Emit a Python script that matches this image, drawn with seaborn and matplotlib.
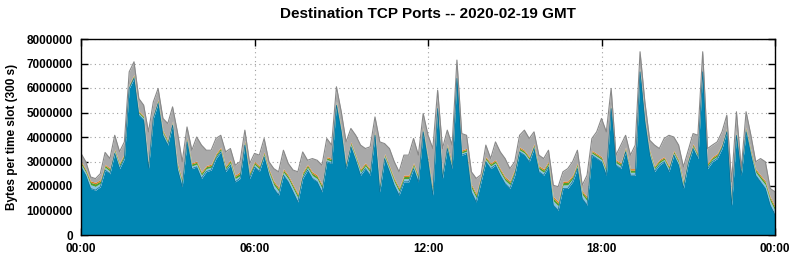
import numpy as np
import pandas as pd
import matplotlib
matplotlib.use("Agg")
import matplotlib.pyplot as plt
import seaborn as sns
from matplotlib.ticker import FuncFormatter

# ---- data (values in millions of bytes per 300 s slot, sampled every 10 minutes) ----
slot_minutes = 10
total = [
    3.33, 2.99, 2.37, 2.30, 2.50, 3.37, 3.12, 4.07, 3.40, 3.80, 6.66, 7.07, 5.57, 5.30, 4.21, 5.43, 5.98, 4.76, 4.55, 5.23, 4.21, 2.99, 4.41, 3.46,
    4.00, 3.67, 3.46, 3.46, 3.94, 4.07, 3.39, 3.53, 2.85, 2.99, 4.28, 2.92, 3.33, 3.26, 3.94, 2.99, 2.71, 2.58, 3.46, 2.92, 2.65, 2.58, 3.39, 3.05,
    3.12, 3.05, 2.85, 3.94, 3.67, 6.05, 5.03, 3.80, 4.35, 4.07, 3.67, 3.53, 3.60, 4.82, 3.80, 3.73, 3.53, 2.99, 2.58, 3.26, 3.26, 3.94, 3.26, 4.96,
    4.07, 3.53, 5.91, 3.53, 4.28, 3.67, 7.14, 4.14, 4.07, 2.58, 2.31, 2.44, 3.67, 3.12, 3.80, 3.39, 3.12, 2.71, 2.99, 4.07, 4.28, 3.94, 4.21, 3.26,
    3.12, 3.46, 2.03, 1.97, 2.58, 2.71, 2.99, 3.46, 2.03, 2.44, 3.94, 4.21, 4.76, 4.21, 5.98, 3.26, 3.67, 4.07, 3.26, 3.67, 7.48, 5.43, 3.87, 3.67,
    3.53, 3.94, 4.07, 4.00, 3.67, 2.78, 3.46, 4.14, 4.07, 7.48, 3.53, 3.67, 3.80, 4.21, 4.89, 2.17, 5.03, 2.71, 5.03, 4.07, 2.99, 3.12, 2.99, 1.90, 1.76,
]
port_main = [
    2.78, 2.44, 1.90, 1.83, 1.97, 2.65, 2.50, 3.33, 2.71, 3.12, 5.98, 6.39, 4.89, 4.69, 2.71, 4.76, 5.37, 4.07, 3.67, 4.48, 2.71, 1.97, 3.80, 2.71,
    2.78, 2.31, 2.59, 2.65, 3.12, 3.39, 2.59, 2.85, 2.17, 2.31, 3.67, 2.31, 2.78, 2.59, 3.19, 2.44, 1.90, 1.63, 2.44, 2.17, 1.76, 1.35, 2.31, 2.65,
    2.31, 2.17, 1.76, 2.99, 2.92, 5.30, 4.21, 2.71, 3.60, 3.05, 2.44, 2.71, 2.44, 4.07, 1.76, 3.12, 2.59, 2.03, 1.63, 2.17, 2.17, 2.71, 2.17, 4.21,
    2.99, 1.63, 5.16, 2.31, 3.53, 2.71, 6.39, 3.26, 3.33, 1.76, 1.35, 2.17, 2.99, 2.71, 2.85, 2.44, 2.10, 1.90, 2.44, 3.39, 3.26, 2.99, 3.53, 2.59,
    2.44, 2.78, 1.22, 1.01, 1.90, 1.90, 2.17, 2.71, 1.49, 1.22, 3.26, 3.12, 2.99, 2.44, 5.16, 2.85, 2.71, 3.39, 2.44, 2.44, 6.66, 4.62, 3.26, 2.59,
    2.85, 2.99, 2.59, 3.26, 2.85, 1.90, 2.92, 3.53, 3.12, 6.66, 2.71, 2.99, 3.12, 3.53, 4.21, 1.22, 4.07, 2.44, 4.21, 3.26, 2.44, 2.17, 1.90, 1.22, 0.82,
]
port_lightblue = [
    .11, .12, .15, .16, .14, .11, .10, .08, .11, .09, .08, .07, .08, .08, .12, .08, .07, .09, .09, .08, .11, .15, .08, .11,
    .11, .13, .12, .11, .09, .08, .11, .10, .13, .12, .08, .12, .10, .11, .09, .12, .15, .16, .12, .13, .15, .17, .12, .11,
    .12, .13, .15, .09, .09, .07, .08, .11, .09, .10, .12, .11, .12, .08, .16, .09, .11, .14, .15, .13, .13, .11, .13, .08,
    .09, .15, .07, .12, .08, .11, .07, .09, .09, .15, .17, .12, .09, .11, .10, .12, .13, .15, .12, .08, .09, .10, .08, .11,
    .12, .10, .17, .18, .14, .15, .13, .11, .16, .17, .08, .09, .09, .12, .07, .10, .11, .08, .12, .12, .07, .08, .09, .11,
    .10, .09, .11, .08, .10, .15, .10, .08, .09, .07, .11, .09, .09, .08, .08, .17, .08, .11, .08, .09, .12, .13, .15, .17, .18,
]
port_green = [
    .08, .08, .10, .10, .09, .08, .08, .06, .08, .07, .06, .06, .06, .06, .08, .06, .06, .07, .07, .06, .08, .10, .07, .08,
    .08, .09, .08, .08, .07, .07, .08, .08, .09, .09, .07, .09, .08, .08, .07, .09, .10, .10, .09, .09, .10, .11, .09, .08,
    .09, .09, .10, .07, .07, .06, .06, .08, .07, .07, .09, .08, .09, .06, .10, .07, .08, .09, .10, .09, .09, .08, .09, .06,
    .07, .10, .06, .09, .07, .08, .06, .07, .07, .10, .11, .09, .07, .08, .08, .09, .09, .10, .09, .07, .07, .07, .07, .08,
    .09, .08, .11, .11, .10, .10, .09, .08, .10, .11, .07, .07, .07, .09, .06, .08, .08, .07, .09, .09, .06, .06, .07, .08,
    .08, .07, .08, .07, .08, .10, .08, .07, .07, .06, .08, .07, .07, .07, .06, .11, .07, .08, .07, .07, .09, .09, .10, .11, .11,
]
port_orange = [
    .05, .05, .06, .06, .06, .05, .05, .04, .05, .05, .04, .04, .04, .04, .05, .04, .04, .05, .05, .04, .05, .06, .05, .05,
    .05, .06, .05, .05, .05, .05, .05, .05, .06, .06, .05, .06, .05, .05, .05, .06, .06, .06, .06, .06, .06, .07, .06, .05,
    .06, .06, .06, .05, .05, .04, .04, .05, .05, .05, .06, .05, .06, .04, .06, .05, .05, .06, .06, .06, .06, .05, .06, .04,
    .05, .06, .04, .06, .05, .05, .04, .05, .05, .06, .07, .06, .05, .05, .05, .06, .06, .06, .06, .05, .05, .05, .05, .05,
    .06, .05, .07, .07, .06, .06, .06, .05, .06, .07, .05, .05, .05, .06, .04, .05, .05, .05, .06, .06, .04, .04, .05, .05,
    .05, .05, .05, .05, .05, .06, .05, .05, .05, .04, .05, .05, .05, .05, .04, .07, .05, .05, .05, .05, .06, .06, .06, .07, .07,
]
x_tick_labels = ["00:00", "06:00", "12:00", "18:00", "00:00"]
x_tick_hours = [0, 6, 12, 18, 24]
y_ticks = [0, 1000000, 2000000, 3000000, 4000000, 5000000, 6000000, 7000000, 8000000]

# ---- build frame ----
df = pd.DataFrame({
    "hour": np.arange(len(total)) * slot_minutes / 60.0,
    "main": np.array(port_main) * 1e6,
    "lightblue": np.array(port_lightblue) * 1e6,
    "green": np.array(port_green) * 1e6,
    "orange": np.array(port_orange) * 1e6,
    "total": np.array(total) * 1e6,
})
df["other"] = (df["total"] - df[["main", "lightblue", "green", "orange"]].sum(axis=1)).clip(lower=20000)
df["top"] = df[["main", "lightblue", "green", "orange", "other"]].sum(axis=1)

sns.set_theme(style="ticks")
plt.rcParams['font.family'] = ['Liberation Sans', 'DejaVu Sans']
plt.rcParams['font.weight'] = 'bold'
plt.rcParams['text.color'] = 'black'
plt.rcParams['axes.labelcolor'] = 'black'
plt.rcParams['xtick.color'] = 'black'
plt.rcParams['ytick.color'] = 'black'

fig = plt.figure(figsize=(7.95, 2.6), dpi=100)
ax = fig.add_axes([81 / 795, 25 / 260, 694 / 795, 196 / 260])

colors = ["#0086b3", "#86c5e3", "#4f9f2f", "#e07b1a", "#a9a9a9"]
ax.stackplot(df["hour"], df["main"], df["lightblue"], df["green"], df["orange"], df["other"],
             colors=colors, linewidth=0, zorder=2)
sns.lineplot(data=df, x="hour", y="top", ax=ax, color="#888888", linewidth=0.8, zorder=3)
sns.lineplot(data=df, x="hour", y="main", ax=ax, color="#0a6f94", linewidth=0.5, zorder=3)

ax.set_xlim(0, 24)
ax.set_ylim(0, 8000000)
ax.set_xticks(x_tick_hours)
ax.set_xticklabels(x_tick_labels)
ax.set_yticks(y_ticks)
ax.yaxis.set_major_formatter(FuncFormatter(lambda v, p: f"{int(v)}"))
ax.grid(True, linestyle=(0, (1, 3)), color="#a0a0a0", linewidth=0.8, zorder=1)
ax.set_axisbelow(True)
ax.tick_params(direction="in", length=5, width=1, top=True, right=True, labelsize=8.5, colors="black", pad=6)
for lab in ax.get_xticklabels() + ax.get_yticklabels():
    lab.set_fontweight("bold")
    lab.set_color("black")
for s in ax.spines.values():
    s.set_color("black")
    s.set_linewidth(1)
    s.set_zorder(5)
ax.set_xlabel("")
ax.set_ylabel("Bytes per time slot (300 s)", fontsize=8.5, fontweight="bold", labelpad=6, color="black")
ax.set_title("Destination TCP Ports -- 2020-02-19 GMT", fontsize=11, fontweight="bold", pad=15, color="black")

fig.savefig("out.png", dpi=100, facecolor="white")
